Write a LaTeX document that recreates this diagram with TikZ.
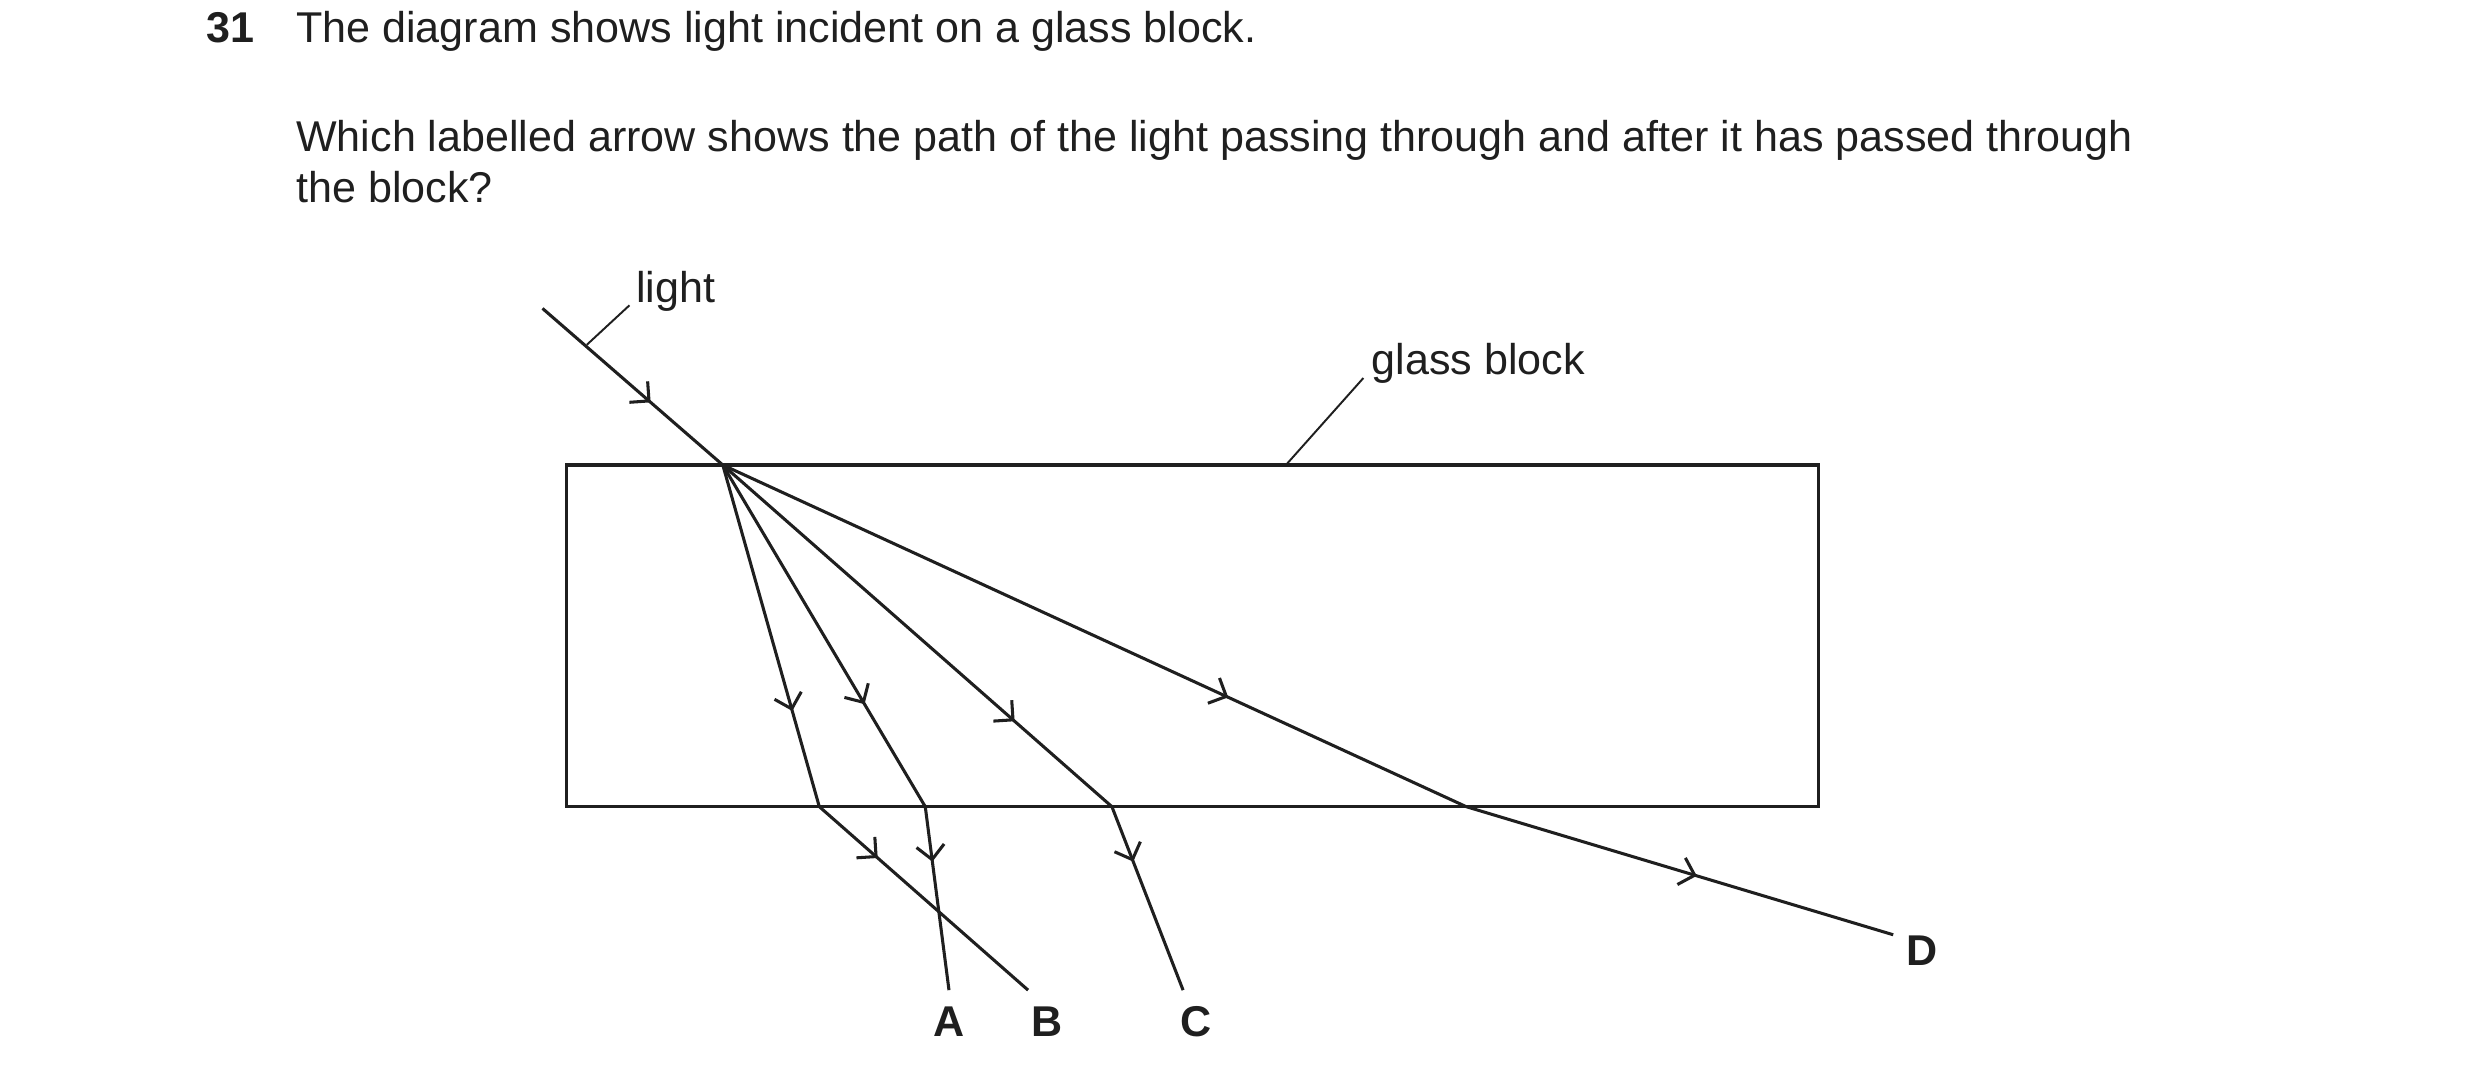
\documentclass[tikz,border=0pt]{standalone}
\usepackage{fontspec}
\setmainfont{Liberation Sans}
\usetikzlibrary{arrows.meta,decorations.markings}

\tikzset{
  ray/.style={line width=1.1pt, color=black!88},
  mid arrow/.style={postaction={decorate,decoration={markings,
      mark=at position #1 with {\arrow{Straight Barb[length=5pt,width=10pt,line width=1.1pt]}}}}},
  leader/.style={line width=0.7pt, color=black!88},
  txt/.style={inner sep=0pt, font=\fontsize{15.5}{19}\selectfont, text=black!88},
  letter/.style={inner sep=0pt, font=\fontsize{15.5}{19}\selectfont\bfseries, text=black!88}
}

\begin{document}
\begin{tikzpicture}[x=0.02cm, y=-0.02cm]
    \useasboundingbox (0,0) rectangle (1568,681);

    % Question
    \node[txt, anchor=base east] (qnum) at (161,27) {\bfseries 31};
    \node[txt, anchor=base west] (line1) at (187,27) {The diagram shows light incident on a glass block.};
    \node[txt, anchor=base west] (line2) at (187,96) {Which labelled arrow shows the path of the light passing through and after it has passed through};
    \node[txt, anchor=base west] (line3) at (187,128) {the block?};

    % Block
    \draw[ray] (358,294) rectangle (1150,510);

    % Points
    \coordinate (src) at (343,195);
    \coordinate (entry) at (457,294);
    \coordinate (exitA) at (585,510);
    \coordinate (exitB) at (518,510);
    \coordinate (exitC) at (703,510);
    \coordinate (exitD) at (927,510);
    \coordinate (endA) at (600,626);
    \coordinate (endB) at (650,626);
    \coordinate (endC) at (748,626);
    \coordinate (endD) at (1197,591);

    % Incident ray
    \draw[ray, mid arrow=0.6] (src) -- (entry);

    % Refracted rays
    \draw[ray, mid arrow=0.7] (entry) -- (exitA);
    \draw[ray, mid arrow=0.3] (exitA) -- (endA);
    \draw[ray, mid arrow=0.72] (entry) -- (exitB);
    \draw[ray, mid arrow=0.28] (exitB) -- (endB);
    \draw[ray, mid arrow=0.75] (entry) -- (exitC);
    \draw[ray, mid arrow=0.3] (exitC) -- (endC);
    \draw[ray, mid arrow=0.68] (entry) -- (exitD);
    \draw[ray, mid arrow=0.54] (exitD) -- (endD);

    % Labels
    \node[txt, anchor=west] (light) at (402,184) {light};
    \draw[leader] (371,218) -- (398,193);
    \node[txt, anchor=west] (glass) at (867,230) {glass block};
    \draw[leader] (813,294) -- (862,239);

    \node[letter] (labA) at (600,646) {A};
    \node[letter] (labB) at (662,646) {B};
    \node[letter] (labC) at (756,646) {C};
    \node[letter] (labD) at (1215,601) {D};
\end{tikzpicture}
\end{document}
